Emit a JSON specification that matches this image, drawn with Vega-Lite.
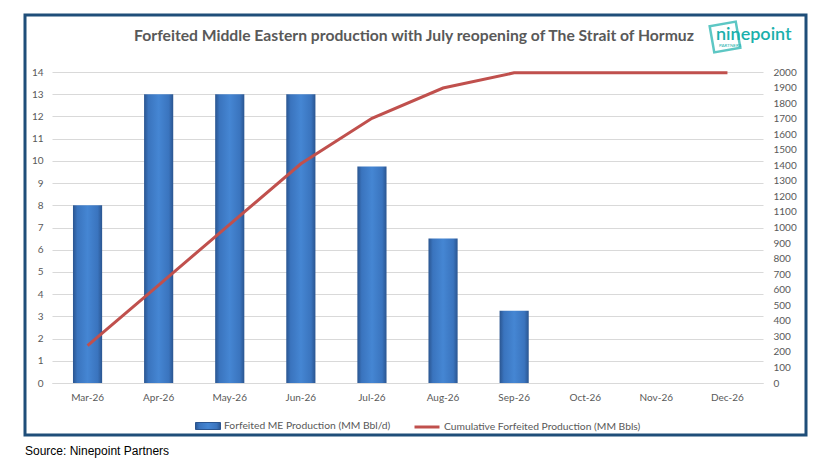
{
  "$schema": "https://vega.github.io/schema/vega-lite/v6.json",
  "width": 711,
  "height": 311,
  "autosize": {"type": "none"},
  "padding": {"left": 52, "top": 72, "right": 51, "bottom": 80},
  "background": "white",
  "data": {
    "values": [
      {"month": "Mar-26", "prod": 8, "cum": 240},
      {"month": "Apr-26", "prod": 13, "cum": 630},
      {"month": "May-26", "prod": 13, "cum": 1020},
      {"month": "Jun-26", "prod": 13, "cum": 1410},
      {"month": "Jul-26", "prod": 9.75, "cum": 1702},
      {"month": "Aug-26", "prod": 6.5, "cum": 1897},
      {"month": "Sep-26", "prod": 3.25, "cum": 1995},
      {"month": "Oct-26", "prod": 0, "cum": 1995},
      {"month": "Nov-26", "prod": 0, "cum": 1995},
      {"month": "Dec-26", "prod": 0, "cum": 1995}
    ]
  },
  "encoding": {
    "x": {
      "field": "month",
      "type": "ordinal",
      "sort": null,
      "scale": {"paddingInner": 0.59, "paddingOuter": 0.295},
      "axis": {
        "title": null,
        "labelAngle": 0,
        "ticks": false,
        "domainColor": "#D9D9D9",
        "labelPadding": 9,
        "labelFont": "Lato",
        "labelFontSize": 10,
        "labelColor": "#595959"
      }
    }
  },
  "layer": [
    {
      "mark": {
        "type": "bar",
        "color": {
          "gradient": "linear",
          "x1": 0, "y1": 0, "x2": 1, "y2": 0,
          "stops": [
            {"offset": 0, "color": "#2A5590"},
            {"offset": 0.15, "color": "#3A74BE"},
            {"offset": 0.5, "color": "#4586D3"},
            {"offset": 0.85, "color": "#3A74BE"},
            {"offset": 1, "color": "#2A5590"}
          ]
        },
        "strokeWidth": 0
      },
      "encoding": {
        "y": {
          "field": "prod",
          "type": "quantitative",
          "scale": {"domain": [0, 14], "nice": false},
          "axis": {
            "title": null,
            "values": [0, 1, 2, 3, 4, 5, 6, 7, 8, 9, 10, 11, 12, 13, 14],
            "grid": true,
            "gridColor": "#D9D9D9",
            "domain": false,
            "ticks": false,
            "labelPadding": 9,
            "labelFont": "Lato",
            "labelFontSize": 10,
            "labelColor": "#595959"
          }
        },
        "stroke": {
          "datum": "Forfeited ME Production (MM Bbl/d)",
          "scale": {"range": ["#2A5590"]},
          "legend": {
            "title": null,
            "orient": "none",
            "legendX": 143,
            "legendY": 341,
            "symbolType": "M-1,-0.28H1V0.28H-1Z",
            "symbolSize": 625,
            "symbolStrokeWidth": 1,
            "labelOffset": 3,
            "labelLimit": 400,
            "labelFont": "Lato",
            "labelFontSize": 10.3,
            "labelColor": "#595959",
            "encode": {"symbols": {"update": {"fill": {"value": "#4285D2"}, "strokeWidth": {"value": 1}}}}
          }
        }
      }
    },
    {
      "mark": {"type": "line", "color": "#C0504D", "strokeWidth": 3},
      "encoding": {
        "y": {
          "field": "cum",
          "type": "quantitative",
          "scale": {"domain": [0, 2000], "nice": false},
          "axis": {
            "title": null,
            "orient": "right",
            "format": "d",
            "values": [0, 100, 200, 300, 400, 500, 600, 700, 800, 900, 1000, 1100, 1200, 1300, 1400, 1500, 1600, 1700, 1800, 1900, 2000],
            "grid": false,
            "domain": false,
            "ticks": false,
            "labelPadding": 10,
            "labelFont": "Lato",
            "labelFontSize": 10,
            "labelColor": "#595959"
          }
        },
        "color": {
          "datum": "Cumulative Forfeited Production (MM Bbls)",
          "scale": {"range": ["#C0504D"]},
          "legend": {
            "title": null,
            "orient": "none",
            "legendX": 361,
            "legendY": 341,
            "symbolType": "M-1,0H1",
            "symbolSize": 625,
            "symbolStrokeWidth": 3,
            "labelOffset": 3,
            "labelLimit": 400,
            "labelFont": "Lato",
            "labelFontSize": 10.3,
            "labelColor": "#595959"
          }
        }
      }
    },
    {
      "data": {"values": [{}]},
      "mark": {"type": "rect", "fill": null, "stroke": "#1F4E79", "strokeWidth": 3},
      "encoding": {
        "x": {"value": -27},
        "x2": {"value": 754},
        "y": {"value": -57},
        "y2": {"value": 363}
      }
    },
    {
      "data": {"values": [{"t": "Forfeited Middle Eastern production with July reopening of The Strait of Hormuz"}]},
      "mark": {"type": "text", "font": "Lato", "fontSize": 15.7, "fontWeight": "bold", "color": "#595959", "align": "center", "baseline": "alphabetic"},
      "encoding": {
        "text": {"field": "t"},
        "x": {"value": 362},
        "y": {"value": -31}
      }
    },
    {
      "data": {"values": [{}]},
      "mark": {"type": "point", "shape": "square", "size": 700, "angle": -10, "filled": false, "stroke": "#1AB0AC", "strokeWidth": 2.5},
      "encoding": {
        "x": {"value": 673},
        "y": {"value": -35}
      }
    },
    {
      "data": {"values": [{"t": "ninepoint"}]},
      "mark": {"type": "text", "font": "Lato", "fontSize": 18, "fontWeight": 600, "color": "#1AB0AC", "align": "left", "baseline": "alphabetic"},
      "encoding": {
        "text": {"field": "t"},
        "x": {"value": 664},
        "y": {"value": -32}
      }
    },
    {
      "data": {"values": [{"t": "PARTNERS"}]},
      "mark": {"type": "text", "font": "Lato", "fontSize": 4.5, "color": "#1AB0AC", "align": "left", "baseline": "alphabetic"},
      "encoding": {
        "text": {"field": "t"},
        "x": {"value": 667},
        "y": {"value": -25}
      }
    },
    {
      "data": {"values": [{"t": "Source: Ninepoint Partners"}]},
      "mark": {"type": "text", "font": "Liberation Sans", "fontSize": 12, "color": "#000000", "align": "left", "baseline": "alphabetic"},
      "encoding": {
        "text": {"field": "t"},
        "x": {"value": -27},
        "y": {"value": 383}
      }
    }
  ],
  "resolve": {"scale": {"y": "independent"}},
  "config": {"view": {"stroke": null}}
}
